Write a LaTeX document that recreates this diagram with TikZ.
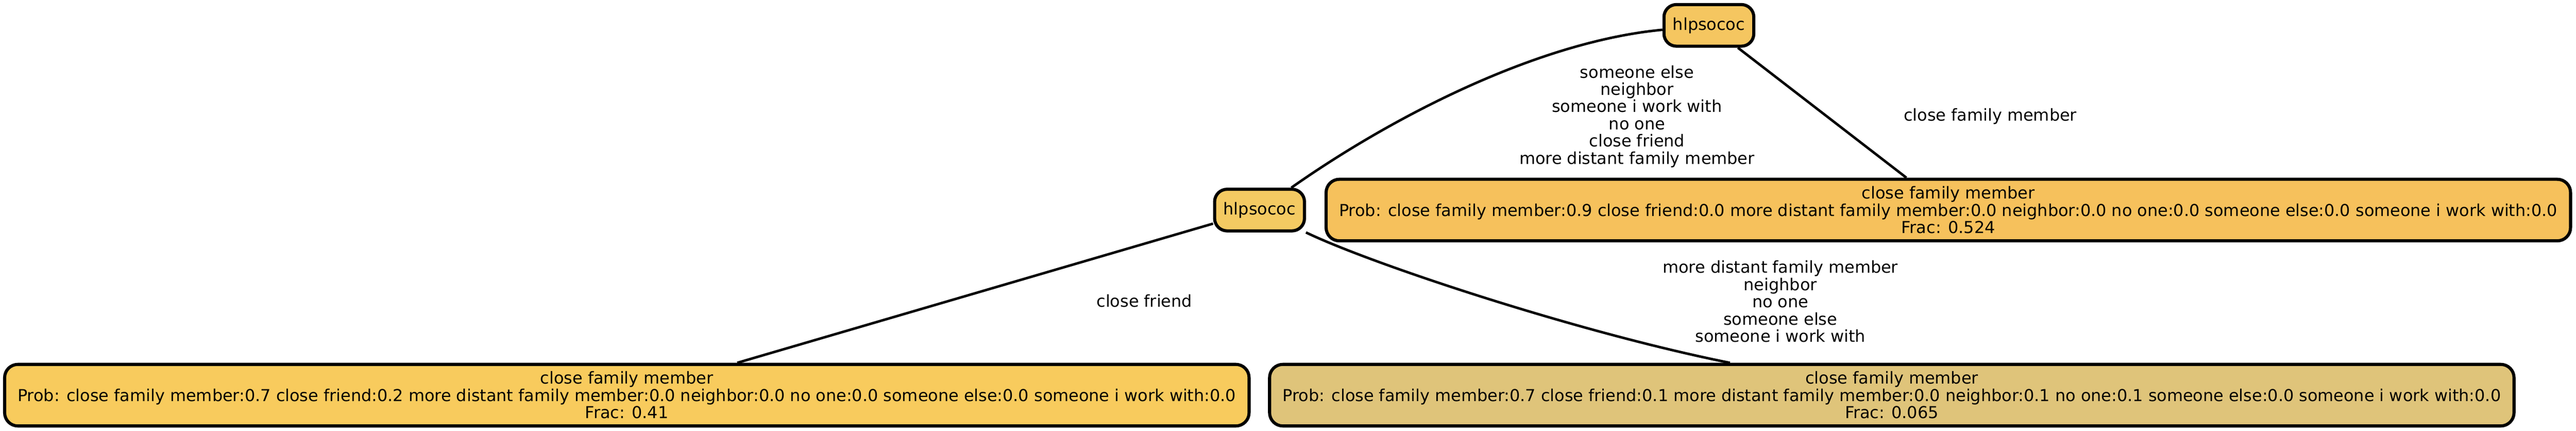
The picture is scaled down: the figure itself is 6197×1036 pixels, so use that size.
\documentclass[tikz,border=0pt]{standalone}
\usepackage{fontspec}
\setmainfont{DejaVu Sans}
\begin{document}
\begin{tikzpicture}
[
 x=0.01cm, y=-0.01cm,
 every node/.style ={font=\fontsize{11.24pt}{11.8pt}\selectfont},
 inner sep=0mm,
 HUB/.style={rectangle, rounded corners=0.3cm, draw=black, line width=0.075cm, minimum width=2.16cm, minimum height=1.0cm},
 LEAF/.style={rectangle, rounded corners=0.32cm, draw=black, line width=0.075cm, minimum width=29.92cm, minimum height=1.48cm, align=center},
 EDGELBL/.style={align=center},
 LINK/.style={line width=0.06cm},
 ],
%
\useasboundingbox (0,0) rectangle (6197,1036);
%
\node [HUB, fill={rgb,255:red,245;green,198;blue,96}]   (HT)  at (4111, 61)  {hlpsococ};
\node [HUB, fill={rgb,255:red,244;green,202;blue,98}]   (HM)  at (3030, 505)  {hlpsococ};
%
\node [LEAF, fill={rgb,255:red,246;green,193;blue,92}]  (LT)  at (4687, 505)  {close family member\\Prob: close family member:0.9 close friend:0.0 more distant family member:0.0 neighbor:0.0 no one:0.0 someone else:0.0 someone i work with:0.0\\Frac: 0.524};
\node [LEAF, fill={rgb,255:red,248;green,203;blue,93}]  (LL)  at (1508, 950)  {close family member\\Prob: close family member:0.7 close friend:0.2 more distant family member:0.0 neighbor:0.0 no one:0.0 someone else:0.0 someone i work with:0.0\\Frac: 0.41};
\node [LEAF, fill={rgb,255:red,223;green,196;blue,122}] (LR)  at (4551, 950)  {close family member\\Prob: close family member:0.7 close friend:0.1 more distant family member:0.0 neighbor:0.1 no one:0.1 someone else:0.0 someone i work with:0.0\\Frac: 0.065};
%
\draw [LINK]  (HM) .. controls (3350,280) and (3700,100) .. (HT) ;
\draw [LINK]  (HT) -- (LT) ;
\draw [LINK]  (HM) -- (LL) ;
\draw [LINK]  (HM) .. controls (3300,635) and (3800,800) .. (LR) ;
%
\node [EDGELBL]  (EA)  at (3938, 280)  {someone else\\neighbor\\someone i work with\\no one\\close friend\\more distant family member};
\node [EDGELBL]  (EB)  at (4788, 280)  {close family member};
\node [EDGELBL]  (EC)  at (2753, 723)  {close friend};
\node [EDGELBL]  (ED)  at (4283, 725)  {more distant family member\\neighbor\\no one\\someone else\\someone i work with};
%
\end{tikzpicture}
\end{document}
